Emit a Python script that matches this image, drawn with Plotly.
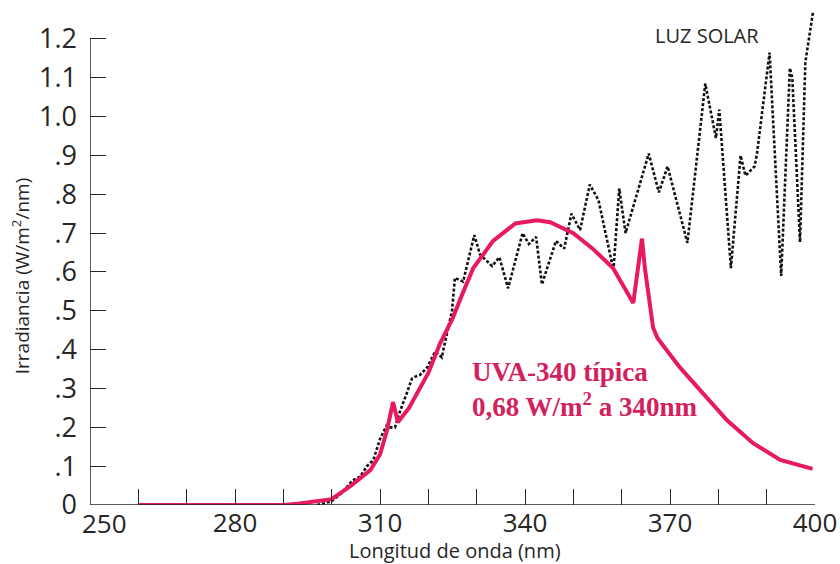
import plotly.graph_objects as go

# UVA-340 lamp spectral irradiance (W/m²/nm)
lamp_nm = [260, 290, 293, 296, 300, 304, 308, 310, 311.4, 312.7, 313.7, 316,
           320, 322.4, 325, 326.6, 329.3, 333.4, 338, 342.5, 345.2, 350, 354,
           358.2, 362.4, 364.2, 364.8, 366.5, 367.4, 372, 376.8, 381.8, 387.2,
           392.8, 399.5]
lamp_irr = [0, 0, 0.003, 0.008, 0.015, 0.05, 0.09, 0.13, 0.19, 0.265, 0.213, 0.25,
            0.34, 0.415, 0.48, 0.53, 0.61, 0.68, 0.725, 0.733, 0.728, 0.70, 0.66,
            0.61, 0.52, 0.686, 0.61, 0.457, 0.43, 0.355, 0.288, 0.218, 0.159,
            0.116, 0.093]

# Sunlight spectral irradiance (W/m²/nm)
sun_nm = [297, 300, 302, 304.4, 305.9, 307.3, 308.6, 310, 311.4, 312, 313.1, 314.1,
          315.6, 316.6, 317.2, 318.3, 319.8, 321.4, 322.8, 323.2, 324.9, 325.5,
          327.2, 329.5, 330.7, 333.2, 334.7, 336.5, 339.5, 340.8, 342.3, 343.5,
          346.4, 348.1, 349.6, 351.4, 353.4, 355.2, 358.3, 359.5, 360.8, 362.4,
          365.6, 367.7, 369.5, 373.6, 377.3, 379.5, 380.2, 382.6, 384.6, 385.6,
          387.5, 388, 390.6, 393, 394.8, 395.3, 396.9, 398, 399.6]
sun_irr = [0, 0.01, 0.03, 0.064, 0.073, 0.10, 0.115, 0.17, 0.205, 0.20, 0.20, 0.24,
           0.29, 0.325, 0.33, 0.335, 0.355, 0.395, 0.38, 0.405, 0.50, 0.585,
           0.575, 0.695, 0.645, 0.615, 0.638, 0.558, 0.70, 0.672, 0.69, 0.568,
           0.68, 0.66, 0.75, 0.708, 0.825, 0.785, 0.605, 0.815, 0.70, 0.77,
           0.905, 0.805, 0.872, 0.675, 1.085, 0.945, 1.018, 0.61, 0.90, 0.848,
           0.872, 0.905, 1.165, 0.59, 1.125, 1.10, 0.677, 1.14, 1.27]

x_ticks = list(range(250, 401, 10))
# "250" is drawn separately, set clear of the y axis "0"
x_labels = ["", "", "", "280", "", "", "310", "", "", "340", "", "",
            "370", "", "", "400"]
first_x_label = "250"
y_ticks = [0, 0.1, 0.2, 0.3, 0.4, 0.5, 0.6, 0.7, 0.8, 0.9, 1.0, 1.1, 1.2]
y_labels = ["0", ".1", ".2", ".3", ".4", ".5", ".6", ".7", ".8", ".9", "1.0", "1.1", "1.2"]

PINK = "#e8195e"
TEXT_PINK = "#d3215c"
INK = "#262626"
TICK_FONT = dict(family="Open Sans", size=26, color=INK)

fig = go.Figure()

fig.add_trace(go.Scatter(
    x=sun_nm, y=sun_irr, mode="lines",
    line=dict(color="#111111", width=2.6, dash="3px,2px"),
    hoverinfo="skip", showlegend=False,
))
fig.add_trace(go.Scatter(
    x=lamp_nm, y=lamp_irr, mode="lines",
    line=dict(color=PINK, width=4),
    hoverinfo="skip", showlegend=False,
))

# axis lines: y stops at 1.2, x spans the full range
fig.add_shape(type="line", xref="x", yref="y", x0=250, x1=250, y0=0, y1=1.2,
              line=dict(color=INK, width=1.5), layer="above")
fig.add_shape(type="line", xref="x", yref="y", x0=250, x1=400, y0=0, y1=0,
              line=dict(color=INK, width=1.5), layer="above")

fig.add_annotation(
    x=252.9, y=-0.036, xref="x", yref="paper", xanchor="center", yanchor="middle",
    text=first_x_label, showarrow=False, font=TICK_FONT,
)
fig.add_annotation(
    x=328.6, y=0.298, xref="x", yref="y", xanchor="left", yanchor="middle",
    text="<b>UVA-340 típica<br>0,68 W/m<sup>2</sup> a 340nm</b>",
    showarrow=False, align="left",
    font=dict(family="Liberation Serif", size=27, color=TEXT_PINK),
)
fig.add_annotation(
    x=366.5, y=1.21, xref="x", yref="y", xanchor="left", yanchor="middle",
    text="LUZ SOLAR", showarrow=False,
    font=dict(family="Open Sans", size=20, color=INK),
)
fig.add_annotation(
    x=-0.096, y=0.59, xref="paper", yref="y", xanchor="center", yanchor="middle",
    textangle=-90,
    text="Irradiancia (W/m<sup>2</sup>/nm)", showarrow=False,
    font=dict(family="Open Sans", size=19, color=INK),
)
fig.add_annotation(
    x=325.5, y=-0.09, xref="x", yref="paper", xanchor="center", yanchor="middle",
    text="Longitud de onda (nm)", showarrow=False,
    font=dict(family="Open Sans", size=20, color=INK),
)

fig.update_layout(
    width=840, height=564,
    margin=dict(l=90, r=25, t=4, b=59),
    paper_bgcolor="white", plot_bgcolor="white",
    xaxis=dict(
        range=[250, 400], showgrid=False, zeroline=False, showline=False,
        tickmode="array", tickvals=x_ticks, ticktext=x_labels,
        ticks="inside", ticklen=16, tickwidth=1.3, tickcolor=INK,
        tickfont=TICK_FONT,
    ),
    yaxis=dict(
        range=[0, 1.29], showgrid=False, zeroline=False, showline=False,
        tickmode="array", tickvals=y_ticks, ticktext=y_labels,
        ticks="inside", ticklen=16, tickwidth=1.3, tickcolor=INK,
        tickfont=dict(family="Open Sans", size=27, color=INK),
        ticklabelstandoff=12,
    ),
)

fig.write_html("out.html")
